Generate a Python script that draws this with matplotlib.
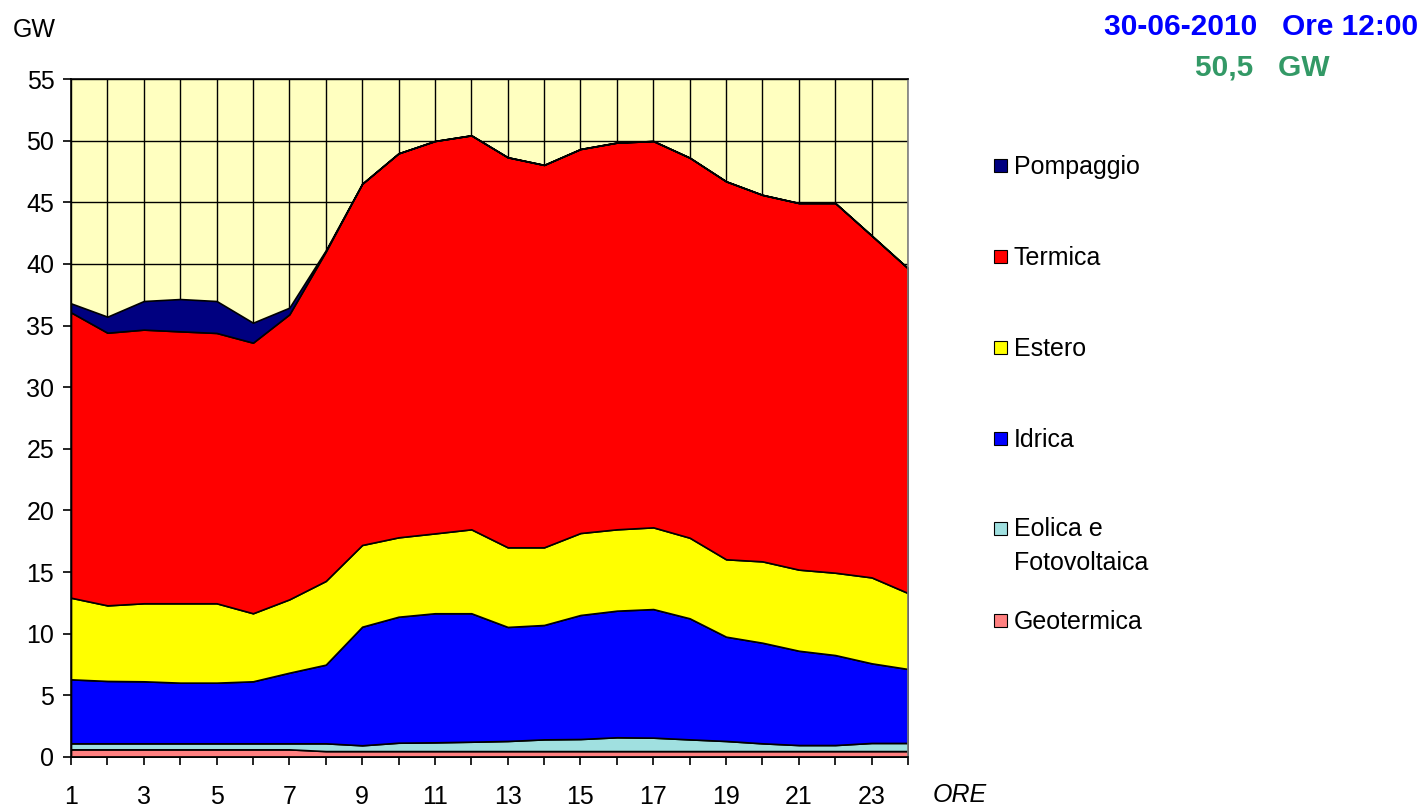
import matplotlib
matplotlib.use("Agg")
import matplotlib.pyplot as plt
from matplotlib.patches import Rectangle
import numpy as np

plt.rcParams['font.family'] = ['Liberation Sans', 'DejaVu Sans']

hours = list(range(1, 25))
series_names = ["Geotermica", "Eolica e\nFotovoltaica", "Idrica", "Estero", "Termica", "Pompaggio"]
geotermica = [0.62, 0.62, 0.62, 0.62, 0.62, 0.62, 0.62, 0.48, 0.48, 0.48, 0.48, 0.48,
              0.48, 0.48, 0.48, 0.48, 0.48, 0.48, 0.48, 0.48, 0.48, 0.48, 0.48, 0.48]
eolica = [0.49, 0.49, 0.49, 0.49, 0.49, 0.49, 0.49, 0.63, 0.47, 0.68, 0.71, 0.76,
          0.82, 0.95, 0.98, 1.12, 1.09, 0.95, 0.82, 0.63, 0.49, 0.49, 0.66, 0.66]
idrica = [5.19, 5.06, 5.03, 4.92, 4.92, 5.03, 5.73, 6.38, 9.62, 10.22, 10.47, 10.42,
          9.25, 9.28, 10.06, 10.27, 10.43, 9.82, 8.46, 8.16, 7.65, 7.30, 6.46, 6.00]
estero = [6.62, 6.13, 6.33, 6.44, 6.44, 5.52, 5.95, 6.79, 6.63, 6.44, 6.48, 6.81,
          6.46, 6.30, 6.65, 6.60, 6.63, 6.54, 6.28, 6.60, 6.58, 6.68, 6.97, 6.16]
termica = [23.15, 22.12, 22.20, 22.06, 21.93, 21.95, 23.12, 26.72, 29.30, 31.15, 31.83, 31.96,
           31.64, 31.02, 31.15, 31.37, 31.34, 30.83, 30.66, 29.73, 29.74, 29.99, 27.73, 26.34]
pompaggio = [0.73, 1.30, 2.32, 2.62, 2.59, 1.62, 0.54, 0.10, 0.0, 0.0, 0.0, 0.0,
             0.0, 0.0, 0.0, 0.0, 0.0, 0.0, 0.0, 0.0, 0.0, 0.0, 0.0, 0.0]
colors = ["#FF8080", "#A0E0E0", "#0000FF", "#FFFF00", "#FF0000", "#000080"]
yticks = list(range(0, 56, 5))
xticklabels_hours = list(range(1, 24, 2))

fig = plt.figure(figsize=(14.23, 8.08), dpi=100)
ax = fig.add_axes([71/1423, 1-757/808, (908-71)/1423, (757-79)/808])
ax.set_facecolor("#FFFFC0")
ax.stackplot(hours, geotermica, eolica, idrica, estero, termica, pompaggio,
             colors=colors, edgecolor="black", linewidth=1.2)
ax.set_xlim(1, 24)
ax.set_ylim(0, 55)
ax.set_axisbelow(True)
ax.set_xticks(hours)
ax.set_xticklabels([str(h) if h in xticklabels_hours else "" for h in hours])
ax.set_yticks(yticks)
ax.grid(True, color="black", linewidth=1.0)
ax.tick_params(axis="both", direction="out", length=6, width=1.2, color="black",
               labelsize=18)
ax.tick_params(axis="x", pad=14)
ax.tick_params(axis="y", pad=6)
for s in ax.spines.values():
    s.set_color("black")
    s.set_linewidth(1.2)
ax.spines["right"].set_color("#808080")

fig.text(13/1423, 1-30/808, "GW", fontsize=18, va="center", ha="left")
fig.text(960/1423, 1-795/808, "ORE", fontsize=18, style="italic", va="center", ha="center")
fig.text(1418/1423, 1-27/808, "30-06-2010   Ore 12:00", fontsize=21.5, fontweight="bold",
         color="#0000FF", ha="right", va="center")
fig.text(1262/1423, 1-67/808, "50,5   GW", fontsize=21.5, fontweight="bold",
         color="#339966", ha="center", va="center")

# legend
legend_items = list(zip(series_names, colors))[::-1]
legend_y = [165, 256, 347, 438, 528, 620]
for (name, col), yy in zip(legend_items, legend_y):
    fig.patches.append(Rectangle((994/1423, 1-(yy+7)/808), 13/1423, 13/808,
                                 transform=fig.transFigure, facecolor=col,
                                 edgecolor="black", linewidth=0.8))
    if "\n" in name:
        fig.text(1014/1423, 1-(yy-11)/808, name, fontsize=18, va="top", ha="left",
                 linespacing=1.5)
    else:
        fig.text(1014/1423, 1-(yy+2)/808, name, fontsize=18, va="center", ha="left")

fig.savefig("out.png", dpi=100)
